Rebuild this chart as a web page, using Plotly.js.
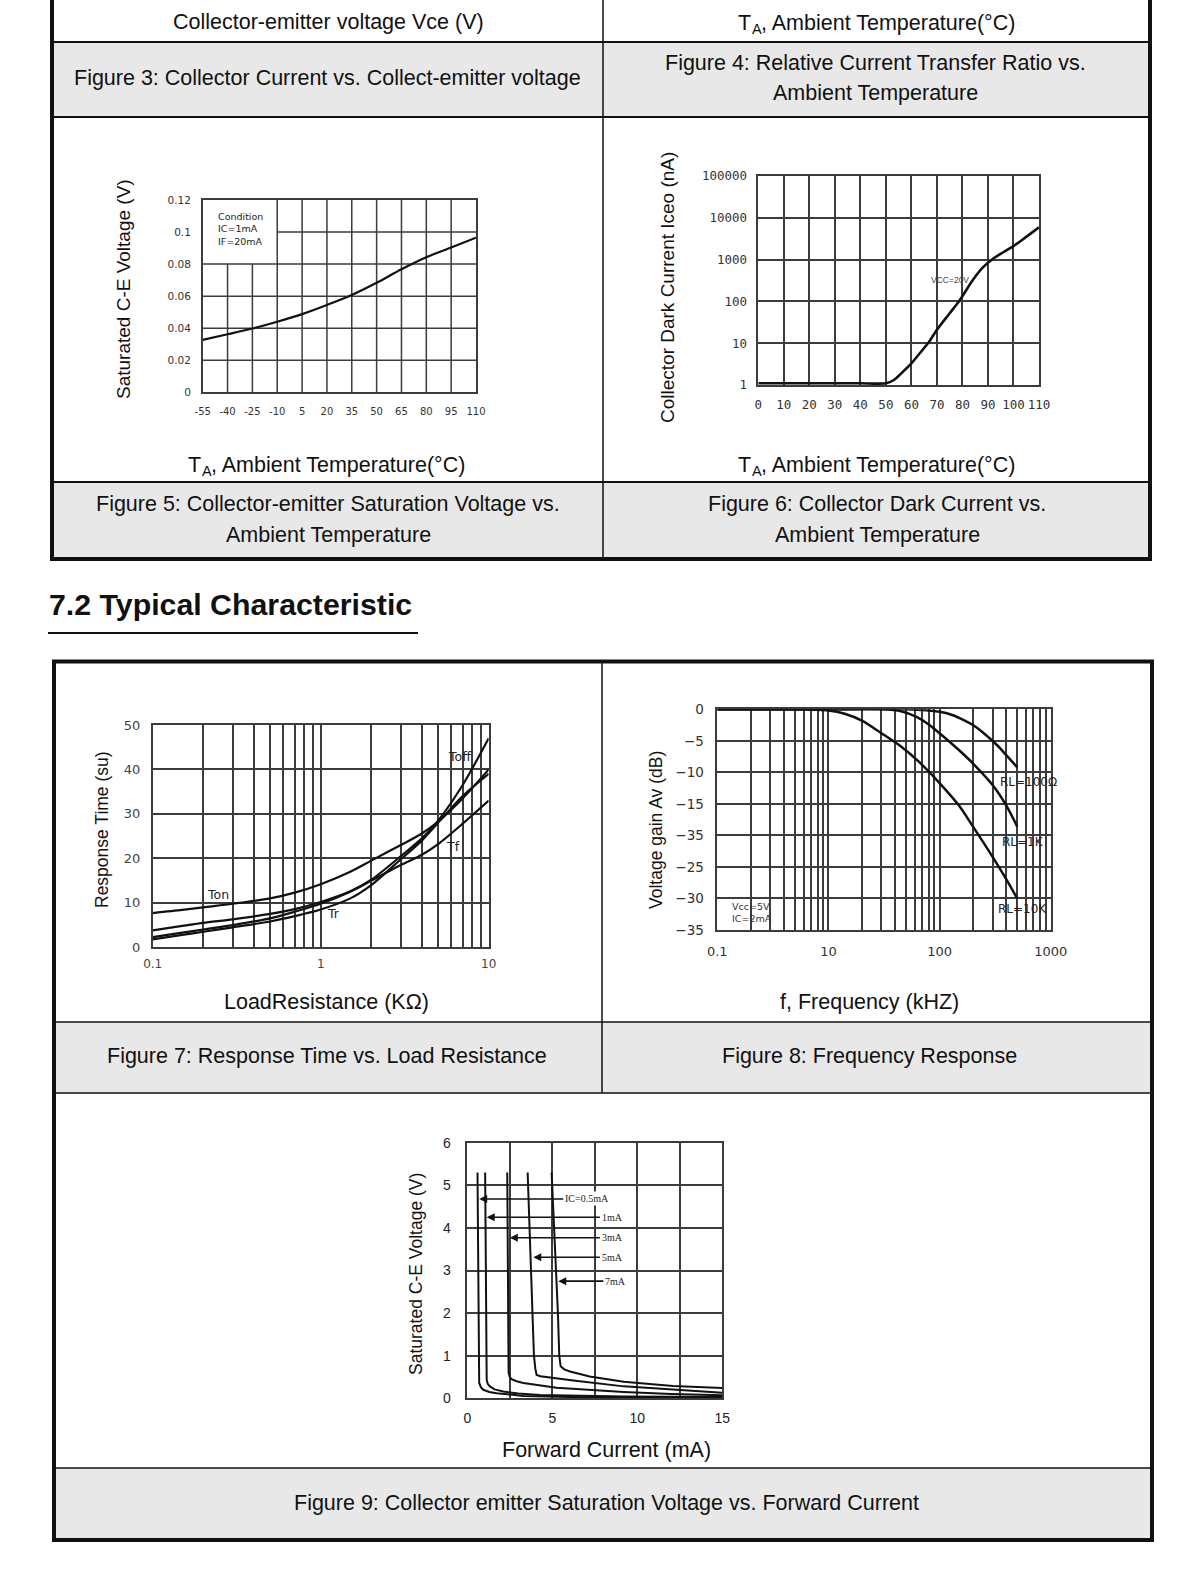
<!DOCTYPE html>
<html><head><meta charset="utf-8">
<script src="https://cdn.plot.ly/plotly-3.0.1.min.js"></script>
<style>html,body{margin:0;padding:0;background:#fff;}#chart{width:1200px;height:1582px;}</style>
</head><body><div id="chart"></div>
<script>
// ---------- Figure 5: Saturation voltage vs ambient temperature ----------
const fig5Temp = [-55,-40,-25,-10,5,20,35,50,65,80,95,110];
const fig5Vce = [0.0327,0.0362,0.0398,0.0440,0.0488,0.0545,0.0607,0.0683,0.0768,0.0843,0.0903,0.0965];
const fig5XTicks = [-55,-40,-25,-10,5,20,35,50,65,80,95,110];
const fig5XTickText = ['-55','-40','-25','-10','5','20','35','50','65','80','95','110'];
const fig5YTicks = [0,0.02,0.04,0.06,0.08,0.1,0.12];
const fig5YTickText = ['0','0.02','0.04','0.06','0.08','0.1','0.12'];
const fig5Condition = ['Condition','IC=1mA','IF=20mA'];

// ---------- Figure 6: Collector dark current vs ambient temperature ----------
const fig6Temp = [0,10,20,30,40,50,53,56,60,64,67,70,75,79,84,88,92,96,100,105,110];
const fig6Iceo = [1.1,1.1,1.1,1.1,1.1,1.1,1.3,1.9,3.3,6.5,11,21,52,108,320,650,1050,1500,2100,3500,5900];
const fig6XTicks = [0,10,20,30,40,50,60,70,80,90,100,110];
const fig6YTicks = [1,10,100,1000,10000,100000];
const fig6YTickText = ['1','10','100','1000','10000','100000'];
const fig6Label = 'VCC=20V';

// ---------- Figure 7: Response time vs load resistance ----------
const fig7Load = [0.1,0.15,0.2,0.3,0.5,0.7,1,1.5,2,3,4,5,7,10];
const fig7Ton  = [7.7,8.4,9.0,9.8,11.0,12.3,14.2,17.0,19.5,23.0,25.6,28.3,33.5,40.0];
const fig7Toff = [3.8,4.8,5.5,6.3,7.5,8.6,10.2,12.6,15.2,20.5,24.5,28.5,36.5,47.0];
const fig7Tr   = [1.8,2.8,3.5,4.5,5.8,7.0,8.5,11.0,14.0,19.8,24.0,28.0,34.0,39.0];
const fig7Tf   = [2.3,3.3,4.0,5.0,6.5,8.0,9.8,12.5,15.0,18.5,20.8,23.2,27.8,33.0];
const fig7XTicks = [0.1,1,10];
const fig7XTickText = ['0.1','1','10'];
const fig7XMinor = [0.2,0.3,0.4,0.5,0.6,0.7,0.8,0.9,2,3,4,5,6,7,8,9];
const fig7YTicks = [0,10,20,30,40,50];
const fig7Labels = ['Toff','Tf','Ton','Tr'];
const fig7LabelX = [6.66,6.15,0.246,1.19];
const fig7LabelY = [42.9,22.6,11.8,7.6];

// ---------- Figure 8: Frequency response ----------
const fig8Freq10K = [1,5,10,14,20,30,45,65,100,150,200,300,400,500];
const fig8Gain10K = [0,0,-0.2,-0.7,-1.8,-3.8,-5.9,-8.3,-11.7,-15.3,-18.6,-23.4,-27.0,-30.0];
const fig8Freq1K = [1,10,30,45,62,80,100,150,200,300,400,500];
const fig8Gain1K = [0,0,0,-0.3,-1.2,-2.4,-3.8,-6.5,-8.6,-12.0,-15.3,-18.6];
const fig8Freq100 = [1,10,50,100,130,165,200,250,330,400,500];
const fig8Gain100 = [0,0,0,-0.4,-0.9,-1.7,-2.5,-3.8,-5.7,-7.3,-9.2];
const fig8XTicks = [1,10,100,1000];
const fig8XTickText = ['0.1','10','100','1000'];
const fig8XMinor = [2,3,4,5,6,7,8,9,20,30,40,50,60,70,80,90,200,300,400,500,600,700,800,900];
const fig8YTicks = [0,-5,-10,-15,-20,-25,-30,-35];
const fig8YTickText = ['0','\u22125','\u221210','\u221215','\u221235','\u221225','\u221230','\u221235'];
const fig8Labels = ['RL=100\u03A9','RL=1K','RL=10K'];
const fig8LabelX = [630,568,561];
const fig8LabelY = [-11.5,-21.1,-31.7];
const fig8Cond = ['Vcc=5V','IC=2mA'];

// ---------- Figure 9: Saturation voltage vs forward current ----------
const fig9If05 = [0.6,0.62,0.64,0.66,0.7,0.8,0.94,1.3,1.73,3.3,6,10,15];
const fig9V05  = [5.3,4,2.5,1.2,0.36,0.26,0.2,0.15,0.12,0.055,0.03,0.02,0.01];
const fig9If1  = [1.05,1.07,1.09,1.11,1.14,1.2,1.33,1.6,2.12,3,4.27,9.2,15];
const fig9V1   = [5.3,4,2.5,1.2,0.43,0.34,0.28,0.21,0.16,0.11,0.08,0.04,0.03];
const fig9If3  = [2.35,2.37,2.39,2.41,2.43,2.5,2.6,2.9,3.3,5.25,9.2,12,15];
const fig9V3   = [5.3,4,2.5,1.2,0.6,0.5,0.45,0.4,0.36,0.25,0.15,0.1,0.07];
const fig9If5  = [3.55,3.65,3.75,3.85,3.92,4.0,4.08,4.3,4.67,6.24,9.2,12,15];
const fig9V5   = [5.3,4.2,3.0,1.8,1.0,0.7,0.55,0.52,0.5,0.42,0.28,0.2,0.13];
const fig9If7  = [4.96,5.05,5.15,5.25,5.33,5.41,5.49,5.7,6.04,7.2,9.2,12.1,15];
const fig9V7   = [5.3,4.5,3.7,3.0,2.0,1.0,0.75,0.68,0.63,0.51,0.39,0.29,0.24];
const fig9ArrowLabels = ['IC=0.5mA','1mA','3mA','5mA','7mA'];
const fig9ArrowY = [4.68,4.25,3.77,3.31,2.75];
const fig9ArrowHeadX = [0.7,1.14,2.5,3.88,5.35];
const fig9ArrowTailX = [5.65,7.8,7.8,7.8,8.0];
const fig9XTicks = [0,5,10,15];
const fig9XMinor = [2.5,7.5,12.5];
const fig9YTicks = [0,1,2,3,4,5,6];

// ---------- page layout helpers ----------
const SANS = 'Liberation Sans, Arial, sans-serif';
const VER = 'DejaVu Sans, Verdana, sans-serif';
const W = 1200, H = 1582;
const px = x => x / W, py = y => 1 - y / H;
const dom = (a, b) => [a / W, b / W];
const domY = (top, bottom) => [1 - bottom / H, 1 - top / H];

const GRID = '#3c3c3c';
const GW = 1.5;
function axisBase(extra) {
  return Object.assign({
    showline: true, mirror: true, linecolor: GRID, linewidth: GW,
    showgrid: true, gridcolor: GRID, gridwidth: GW, zeroline: false,
    ticks: '', automargin: false, fixedrange: true
  }, extra);
}
const minorGrid = vals => ({tickmode: 'array', tickvals: vals, showgrid: true, gridcolor: GRID, gridwidth: GW, ticks: ''});

const line = (x, y, xa, ya, w) => ({x: x, y: y, xaxis: xa, yaxis: ya, type: 'scatter', mode: 'lines',
  line: {color: '#111', width: w || 2.2}, hoverinfo: 'skip', showlegend: false});
const spl = (x, y, xa, ya, w) => { const t = line(x, y, xa, ya, w || 2.2); t.line.shape = 'spline'; t.line.smoothing = 0.8; return t; };

const data = [
  spl(fig5Temp, fig5Vce, 'x', 'y'),
  spl(fig6Temp, fig6Iceo, 'x2', 'y2', 2.6),
  spl(fig7Load, fig7Ton, 'x3', 'y3'),
  spl(fig7Load, fig7Toff, 'x3', 'y3'),
  spl(fig7Load, fig7Tr, 'x3', 'y3'),
  spl(fig7Load, fig7Tf, 'x3', 'y3'),
  spl(fig8Freq100, fig8Gain100, 'x4', 'y4', 2.5),
  spl(fig8Freq1K, fig8Gain1K, 'x4', 'y4', 2.5),
  spl(fig8Freq10K, fig8Gain10K, 'x4', 'y4', 2.5),
  line(fig9If05, fig9V05, 'x5', 'y5', 2),
  line(fig9If1, fig9V1, 'x5', 'y5', 2),
  line(fig9If3, fig9V3, 'x5', 'y5', 2),
  line(fig9If5, fig9V5, 'x5', 'y5', 2),
  line(fig9If7, fig9V7, 'x5', 'y5', 2)
];

// ---------- shapes ----------
const shapes = [];
function hline(y, x0, x1, w) { shapes.push({type: 'line', xref: 'paper', yref: 'paper', x0: px(x0), x1: px(x1), y0: py(y), y1: py(y), line: {color: '#111', width: w}}); }
function vline(x, y0, y1, w) { shapes.push({type: 'line', xref: 'paper', yref: 'paper', x0: px(x), x1: px(x), y0: py(y0), y1: py(y1), line: {color: '#111', width: w}}); }
function fill(x0, y0, x1, y1) { shapes.push({type: 'rect', xref: 'paper', yref: 'paper', x0: px(x0), x1: px(x1), y0: py(y1), y1: py(y0), fillcolor: '#e8e8e8', line: {width: 0}, layer: 'below'}); }

// Figure 5 grid (with the blank "Condition" box in the upper-left)
const boxX = -10, boxY = 0.08;
fig5XTicks.slice(1, -1).forEach(v => shapes.push({type: 'line', xref: 'x', yref: 'y', x0: v, x1: v, y0: 0,
  y1: v < boxX ? boxY : fig5YTicks[fig5YTicks.length - 1], line: {color: GRID, width: GW}, layer: 'below'}));
fig5YTicks.slice(1, -1).forEach(v => shapes.push({type: 'line', xref: 'x', yref: 'y', y0: v, y1: v,
  x0: v > boxY ? boxX : fig5XTicks[0], x1: fig5XTicks[fig5XTicks.length - 1], line: {color: GRID, width: GW}, layer: 'below'}));

// table 1
fill(52, 42, 1150, 117); fill(52, 482, 1150, 557);
hline(42, 52, 1150, 2); hline(117, 52, 1150, 2); hline(482, 52, 1150, 2);
vline(603, 0, 557, 1.5);
vline(52, 0, 561, 4); vline(1150, 0, 561, 4); hline(559, 50, 1152, 4);
// heading underline
hline(633, 48, 418, 2);
// table 2
fill(54, 1022, 1152, 1093); fill(54, 1468, 1152, 1540);
hline(1022, 54, 1152, 1.5); hline(1093, 54, 1152, 1.5); hline(1468, 54, 1152, 1.5);
vline(602, 661, 1093, 1.5);
shapes.push({type: 'rect', xref: 'paper', yref: 'paper', x0: px(54), x1: px(1152), y0: py(1540), y1: py(661.5), line: {color: '#111', width: 4}});

// ---------- annotations ----------
const ann = [];
function txt(text, x, y, size, opts) {
  ann.push(Object.assign({text: text, xref: 'paper', yref: 'paper', x: px(x), y: py(y), showarrow: false,
    xanchor: 'center', yanchor: 'middle', font: {family: SANS, size: size, color: '#111'}}, opts || {}));
}
const CAP = 21.5;
// "T_A, Ambient Temperature(°C)" built from three pieces (subscript A)
const TA_REST = ', Ambient Temperature(\u00B0C)';
function taTitle(cx, cy) {
  const sub = 14.5;
  const wT = 0.611 * CAP, wA = 0.667 * sub, wRest = 12.014 * CAP;
  const x0 = cx - (wT + wA + wRest) / 2;
  txt('T', x0, cy, CAP, {xanchor: 'left', borderpad: 0});
  txt('A', x0 + wT, cy + 6, sub, {xanchor: 'left', borderpad: 0});
  txt(TA_REST, x0 + wT + wA, cy, CAP, {xanchor: 'left', borderpad: 0});
}
txt('Collector-emitter voltage Vce (V)', 328, 22, CAP);
taTitle(878, 23);
txt('Figure 3: Collector Current vs. Collect-emitter voltage', 327, 78, CAP);
txt('Figure 4: Relative Current Transfer Ratio vs.', 875, 62.5, CAP);
txt('Ambient Temperature', 875, 93, CAP);
taTitle(328, 465);
taTitle(878, 465);
txt('Figure 5: Collector-emitter Saturation Voltage vs.', 328, 504.5, CAP);
txt('Ambient Temperature', 328, 535, CAP);
txt('Figure 6: Collector Dark Current vs.', 876.5, 504.5, CAP);
txt('Ambient Temperature', 877, 535, CAP);
txt('<b>7.2 Typical Characteristic</b>', 47, 605, 30.3, {xanchor: 'left'});
txt('LoadResistance (K\u03A9)', 326.5, 1002, CAP);
txt('f, Frequency (kHZ)', 869.5, 1002, CAP);
txt('Figure 7: Response Time vs. Load Resistance', 326.5, 1056, CAP);
txt('Figure 8: Frequency Response', 869, 1056, CAP);
txt('Forward Current (mA)', 606.5, 1450, CAP);
txt('Figure 9: Collector emitter Saturation Voltage vs. Forward Current', 606.5, 1503, CAP);
// y axis titles
txt('Saturated C-E Voltage (V)', 123, 289, 19, {textangle: -90});
txt('Collector Dark Current Iceo (nA)', 667, 288, 19, {textangle: -90});
txt('Response Time (su)', 102, 830, 17.5, {textangle: -90});
txt('Voltage gain Av (dB)', 656, 830, 17.5, {textangle: -90});
txt('Saturated C-E Voltage (V)', 416, 1274, 17.5, {textangle: -90});

// in-chart labels
ann.push({text: fig5Condition.join('<br>'), xref: 'x', yref: 'y', x: -47, y: 0.1145, xanchor: 'left', yanchor: 'top',
  align: 'left', showarrow: false, font: {family: VER, size: 9.5, color: '#222'}});
ann.push({text: fig6Label, xref: 'x2', yref: 'y2', x: 75, y: Math.log10(325), showarrow: false,
  font: {family: SANS, size: 8.5, color: '#444'}});
fig7Labels.forEach((t, i) => ann.push({text: t, xref: 'x3', yref: 'y3', x: Math.log10(fig7LabelX[i]), y: fig7LabelY[i],
  showarrow: false, font: {family: VER, size: 12.5, color: '#222'}}));
fig8Labels.forEach((t, i) => ann.push({text: t, xref: 'x4', yref: 'y4', x: Math.log10(fig8LabelX[i]), y: fig8LabelY[i],
  showarrow: false, font: {family: VER, size: 12, color: '#222'}}));
ann.push({text: fig8Cond.join('<br>'), xref: 'x4', yref: 'y4', x: Math.log10(1.3), y: -32.3, xanchor: 'left',
  align: 'left', showarrow: false, font: {family: VER, size: 9.5, color: '#333'}});
fig9ArrowLabels.forEach((t, i) => ann.push({text: t, xref: 'x5', yref: 'y5', axref: 'x5', ayref: 'y5',
  x: fig9ArrowHeadX[i], y: fig9ArrowY[i], ax: fig9ArrowTailX[i], ay: fig9ArrowY[i],
  xanchor: 'left', yanchor: 'middle', showarrow: true, arrowhead: 2, arrowsize: 1, arrowwidth: 1.6,
  arrowcolor: '#111', standoff: 0, startstandoff: 0, borderpad: 1, bgcolor: '#fff',
  font: {family: 'Liberation Serif, Times New Roman, serif', size: 10, color: '#222'}}));

const layout = {
  width: W, height: H, margin: {l: 0, r: 0, t: 0, b: 0},
  paper_bgcolor: '#fff', plot_bgcolor: 'rgba(0,0,0,0)', showlegend: false, hovermode: false, dragmode: false,
  xaxis: axisBase({domain: dom(202.7, 476), anchor: 'y', range: [-55, 110], tickvals: fig5XTicks, ticktext: fig5XTickText, showgrid: false,
    tickfont: {family: VER, size: 10, color: '#333'}, ticklabelstandoff: 9}),
  yaxis: axisBase({domain: domY(200, 392.3), anchor: 'x', range: [0, 0.12], tickvals: fig5YTicks, ticktext: fig5YTickText,
    showgrid: false, tickfont: {family: VER, size: 10.5, color: '#333'}, ticklabelstandoff: 8}),
  xaxis2: axisBase({domain: dom(758.3, 1039), anchor: 'y2', range: [0, 110], tickvals: fig6XTicks,
    tickfont: {family: 'DejaVu Sans Mono, monospace', size: 12.5, color: '#333'}, ticklabelstandoff: 7}),
  yaxis2: axisBase({domain: domY(176, 385), anchor: 'x2', type: 'log', range: [0, 5], tickvals: fig6YTicks,
    ticktext: fig6YTickText, tickfont: {family: 'DejaVu Sans Mono, monospace', size: 12.5, color: '#333'}, ticklabelstandoff: 7}),
  xaxis3: axisBase({domain: dom(152.7, 488.7), anchor: 'y3', type: 'log', range: [-1, 1], tickvals: fig7XTicks, ticktext: fig7XTickText,
    minor: minorGrid(fig7XMinor), tickfont: {family: VER, size: 12, color: '#444'}, ticklabelstandoff: 5}),
  yaxis3: axisBase({domain: domY(725, 947.3), anchor: 'x3', range: [0, 50], tickvals: fig7YTicks,
    tickfont: {family: VER, size: 13, color: '#444'}, ticklabelstandoff: 8}),
  xaxis4: axisBase({domain: dom(717.3, 1050.7), anchor: 'y4', type: 'log', range: [0, 3], tickvals: fig8XTicks, ticktext: fig8XTickText,
    minor: minorGrid(fig8XMinor), tickfont: {family: VER, size: 13, color: '#333'}, ticklabelstandoff: 9}),
  yaxis4: axisBase({domain: domY(709.3, 930), anchor: 'x4', range: [-35, 0], tickvals: fig8YTicks, ticktext: fig8YTickText,
    tickfont: {family: VER, size: 13.5, color: '#333'}, ticklabelstandoff: 9}),
  xaxis5: axisBase({domain: dom(467.3, 722.3), anchor: 'y5', range: [0, 15], tickvals: fig9XTicks,
    minor: minorGrid(fig9XMinor), tickfont: {family: SANS, size: 14, color: '#222'}, ticklabelstandoff: 6}),
  yaxis5: axisBase({domain: domY(1142.7, 1398.3), anchor: 'x5', range: [0, 6], tickvals: fig9YTicks,
    tickfont: {family: SANS, size: 14, color: '#222'}, ticklabelstandoff: 12}),
  shapes: shapes,
  annotations: ann
};

Plotly.newPlot('chart', data, layout, {displayModeBar: false, scrollZoom: false, showTips: false});
</script></body></html>
